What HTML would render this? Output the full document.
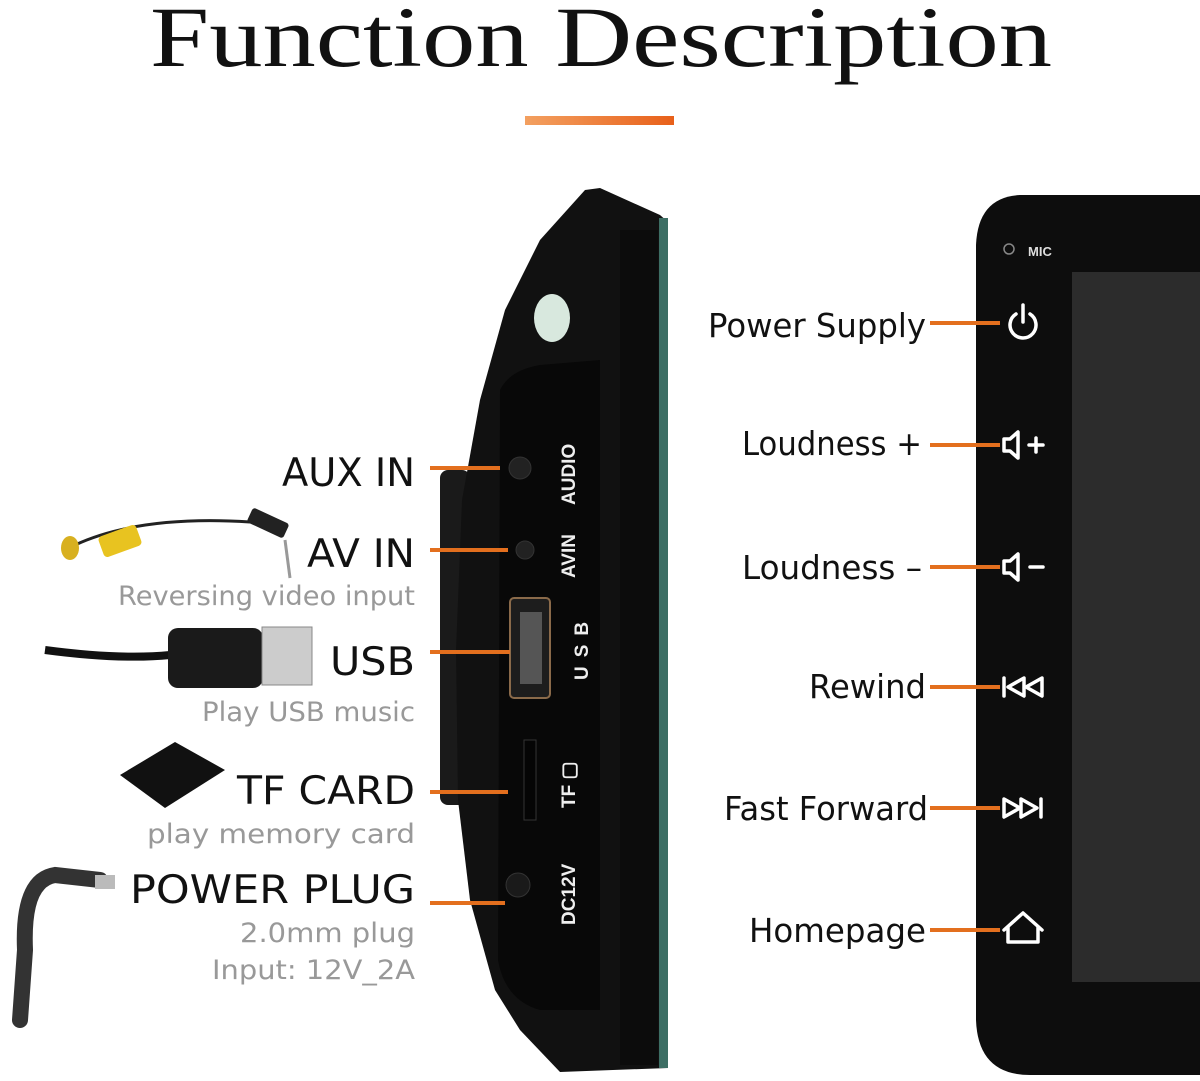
<!DOCTYPE html>
<html><head><style>
html,body{margin:0;padding:0;background:#fff;}
body{width:1200px;height:1081px;overflow:hidden;}
svg{display:block}
</style></head><body>
<svg width="1200" height="1081" viewBox="0 0 1200 1081" xmlns="http://www.w3.org/2000/svg">
<defs>
<linearGradient id="og" x1="0" x2="1"><stop offset="0" stop-color="#f3a060"/><stop offset="1" stop-color="#e8601a"/></linearGradient>
</defs>
<text x="150" y="66" textLength="902" lengthAdjust="spacingAndGlyphs" font-family="Liberation Serif, serif" font-size="86" fill="#111">Function Description</text>
<rect x="525" y="116" width="149" height="9" fill="url(#og)"/>

<!-- side device -->
<rect x="440" y="470" width="30" height="335" rx="8" fill="#1a1a1a"/>
<path d="M585 190 L600 188 L660 215 L668 222 L668 1068 L560 1072 L520 1030 L495 990 L470 900 L458 800 L456 650 L462 500 L480 400 L505 310 L540 240 Z" fill="#111"/>
<rect x="659" y="218" width="9" height="850" fill="#3d6e64"/>
<rect x="620" y="230" width="38" height="835" fill="#0c0c0c"/>
<path d="M500 390 Q510 370 540 365 L600 360 L600 1010 L540 1010 Q505 1000 498 960 Z" fill="#080808"/>
<ellipse cx="552" cy="318" rx="18" ry="24" fill="#d8e8de"/>
<circle cx="520" cy="468" r="11" fill="#222" stroke="#333"/>
<circle cx="525" cy="550" r="9" fill="#222" stroke="#333"/>
<rect x="510" y="598" width="40" height="100" rx="4" fill="#1d1d1d" stroke="#8a6a4a" stroke-width="2"/>
<rect x="520" y="612" width="22" height="72" fill="#555"/>
<rect x="524" y="740" width="12" height="80" fill="#050505" stroke="#333"/>
<circle cx="518" cy="885" r="12" fill="#1a1a1a" stroke="#333"/>
<g font-family="Liberation Sans, sans-serif" font-weight="bold" font-size="19" fill="#eee">
<text transform="translate(575,505) rotate(-90)">AUDIO</text>
<text transform="translate(575,578) rotate(-90)">AVIN</text>
<text transform="translate(588,680) rotate(-90)" letter-spacing="9">USB</text>
<text transform="translate(575,808) rotate(-90)">TF ▢</text>
<text transform="translate(575,925) rotate(-90)">DC12V</text>
</g>

<!-- right device -->
<path d="M1020 195 L1200 195 L1200 1075 L1030 1075 Q978 1075 976 1020 L976 245 Q978 197 1020 195 Z" fill="#0d0d0d"/>
<rect x="1072" y="272" width="128" height="710" fill="#2c2c2c"/>
<circle cx="1009" cy="249" r="5" fill="none" stroke="#888" stroke-width="1.5"/>
<text x="1028" y="256" font-family="Liberation Sans, sans-serif" font-size="13" font-weight="bold" fill="#ddd">MIC</text>

<g stroke="#e36f1e" stroke-width="4">
<line x1="430" y1="468" x2="500" y2="468"/>
<line x1="430" y1="550" x2="508" y2="550"/>
<line x1="430" y1="652" x2="510" y2="652"/>
<line x1="430" y1="792" x2="508" y2="792"/>
<line x1="430" y1="903" x2="505" y2="903"/>
<line x1="930" y1="323" x2="1000" y2="323"/>
<line x1="930" y1="445" x2="1000" y2="445"/>
<line x1="930" y1="567" x2="1000" y2="567"/>
<line x1="930" y1="687" x2="1000" y2="687"/>
<line x1="930" y1="808" x2="1000" y2="808"/>
<line x1="930" y1="930" x2="1000" y2="930"/>
</g>
<g stroke="#fff" stroke-width="3.5" fill="none" stroke-linecap="round" stroke-linejoin="round">
<path d="M1016 314 A13 13 0 1 0 1030 314"/><line x1="1023" y1="305" x2="1023" y2="322"/>
<path d="M1004 439 L1010 439 L1018 432 L1018 458 L1010 451 L1004 451 Z"/><line x1="1029" y1="445" x2="1043" y2="445"/><line x1="1036" y1="438" x2="1036" y2="452"/>
<path d="M1004 561 L1010 561 L1018 554 L1018 580 L1010 573 L1004 573 Z"/><line x1="1030" y1="567" x2="1043" y2="567"/>
<line x1="1004" y1="678" x2="1004" y2="696"/><path d="M1024 678 L1008 687 L1024 696 Z"/><path d="M1042 678 L1026 687 L1042 696 Z"/>
<path d="M1004 799 L1020 808 L1004 817 Z"/><path d="M1021 799 L1037 808 L1021 817 Z"/><line x1="1041" y1="799" x2="1041" y2="817"/>
<path d="M1004 930 L1023 913 L1042 930 M1008 927 L1008 942 L1038 942 L1038 927"/>
</g>

<g font-family="DejaVu Sans, Liberation Sans, sans-serif" fill="#111">
<text x="282" y="486" textLength="133" lengthAdjust="spacingAndGlyphs" font-size="39">AUX IN</text>
<text x="307" y="567" textLength="108" lengthAdjust="spacingAndGlyphs" font-size="39">AV IN</text>
<text x="118" y="605" textLength="297" lengthAdjust="spacingAndGlyphs" font-size="27" fill="#999">Reversing video input</text>
<text x="330" y="675" textLength="85" lengthAdjust="spacingAndGlyphs" font-size="39">USB</text>
<text x="202" y="721" textLength="213" lengthAdjust="spacingAndGlyphs" font-size="27" fill="#999">Play USB music</text>
<text x="237" y="804" textLength="178" lengthAdjust="spacingAndGlyphs" font-size="39">TF CARD</text>
<text x="147" y="843" textLength="268" lengthAdjust="spacingAndGlyphs" font-size="27" fill="#999">play memory card</text>
<text x="130" y="903" textLength="285" lengthAdjust="spacingAndGlyphs" font-size="39">POWER PLUG</text>
<text x="240" y="942" textLength="175" lengthAdjust="spacingAndGlyphs" font-size="27" fill="#999">2.0mm plug</text>
<text x="212" y="979" textLength="203" lengthAdjust="spacingAndGlyphs" font-size="27" fill="#999">Input: 12V_2A</text>
<g font-size="33">
<text x="708" y="337" textLength="218" lengthAdjust="spacingAndGlyphs">Power Supply</text>
<text x="742" y="455" textLength="180" lengthAdjust="spacingAndGlyphs">Loudness +</text>
<text x="742" y="579" textLength="180" lengthAdjust="spacingAndGlyphs">Loudness –</text>
<text x="809" y="698" textLength="117" lengthAdjust="spacingAndGlyphs">Rewind</text>
<text x="724" y="820" textLength="204" lengthAdjust="spacingAndGlyphs">Fast Forward</text>
<text x="749" y="942" textLength="177" lengthAdjust="spacingAndGlyphs">Homepage</text>
</g>
</g>

<path d="M75 545 Q140 515 250 522" stroke="#222" stroke-width="3" fill="none"/>
<rect x="100" y="530" width="40" height="22" rx="4" fill="#e8c320" transform="rotate(-20 120 541)"/>
<ellipse cx="70" cy="548" rx="9" ry="12" fill="#d8b020"/>
<rect x="248" y="515" width="40" height="16" rx="3" fill="#222" transform="rotate(25 268 523)"/>
<line x1="285" y1="540" x2="290" y2="578" stroke="#999" stroke-width="3"/>
<path d="M45 650 Q120 660 170 655" stroke="#111" stroke-width="8" fill="none"/>
<rect x="168" y="628" width="95" height="60" rx="10" fill="#1a1a1a"/>
<rect x="262" y="627" width="50" height="58" fill="#ccc" stroke="#888"/>
<polygon points="120,775 175,742 225,770 165,808" fill="#111"/>
<path d="M20 1020 L25 950 Q22 880 55 875 L100 880" stroke="#333" stroke-width="16" fill="none" stroke-linecap="round"/>
<rect x="95" y="875" width="20" height="14" fill="#bbb"/>
</svg>
</body></html>
